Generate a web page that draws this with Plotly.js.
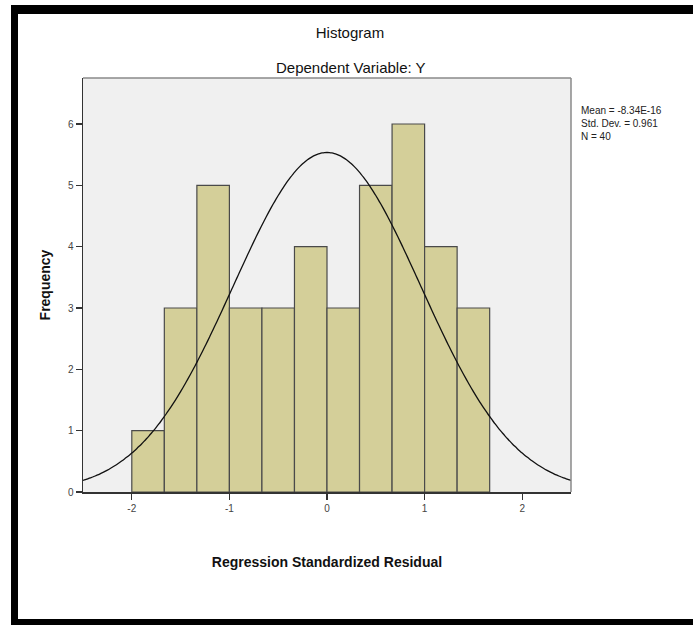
<!DOCTYPE html>
<html>
<head>
<meta charset="utf-8">
<script src="https://cdn.plot.ly/plotly-3.0.1.min.js"></script>
<style>
  html, body { margin: 0; padding: 0; background: #fff; }
  #wrap { position: relative; width: 693px; height: 625px; overflow: hidden; }
  #chart { position: absolute; left: 0; top: 0; width: 693px; height: 625px; }
  .bd { position: absolute; background: #000; }
</style>
</head>
<body>
<div id="wrap">
  <div id="chart"></div>
  <div class="bd" style="left:11px; top:5px; width:682px; height:9px;"></div>
  <div class="bd" style="left:11px; top:5px; width:7px; height:620px;"></div>
  <div class="bd" style="left:11px; top:619px; width:682px; height:6px;"></div>
</div>
<script>
// ---- data ----
var binStart = -2;
var binWidth = 1 / 3;
var frequencies = [1, 3, 5, 3, 3, 4, 3, 5, 6, 4, 3];
var statMean = -8.34e-16;
var statSD = 0.961;
var statN = 40;
var xTickVals = [-2, -1, 0, 1, 2];
var xTickText = ["-2", "-1", "0", "1", "2"];
var yTickVals = [0, 1, 2, 3, 4, 5, 6];
var yTickText = ["0", "1", "2", "3", "4", "5", "6"];

// bin centres
var binCenters = frequencies.map(function (_, i) { return binStart + (i + 0.5) * binWidth; });

// fitted normal curve (from reported mean, sd, N and bin width)
var curveX = [], curveY = [];
for (var k = 0; k <= 200; k++) {
  var x = -2.5 + k * 5 / 200;
  var z = (x - statMean) / statSD;
  curveX.push(x);
  curveY.push(statN * binWidth * Math.exp(-0.5 * z * z) / (statSD * Math.sqrt(2 * Math.PI)));
}

var font = "Liberation Sans, Arial, sans-serif";

var traces = [
  {
    type: "bar",
    x: binCenters,
    y: frequencies,
    width: binWidth,
    marker: { color: "#d4cf99", line: { color: "#4a4a4a", width: 1.2 } },
    hoverinfo: "x+y"
  },
  {
    type: "scatter",
    mode: "lines",
    x: curveX,
    y: curveY,
    line: { color: "#111", width: 1.3, shape: "spline" },
    hoverinfo: "skip"
  }
];

var layout = {
  width: 693,
  height: 625,
  paper_bgcolor: "#ffffff",
  plot_bgcolor: "#f0f0f0",
  showlegend: false,
  margin: { l: 83, r: 122, t: 78, b: 133, pad: 0 },
  font: { family: font, color: "#000" },
  bargap: 0,
  title: {
    text: "Histogram",
    font: { family: font, size: 15, color: "#111" },
    x: 0.505, xanchor: "center",
    y: 1 - 33 / 625, yanchor: "middle", yref: "container"
  },
  xaxis: {
    range: [-2.5, 2.5],
    tickmode: "array",
    tickvals: xTickVals,
    ticktext: xTickText,
    ticks: "outside",
    ticklen: 6,
    tickwidth: 1.2,
    tickcolor: "#333",
    tickfont: { family: font, size: 10, color: "#444" },
    showgrid: false,
    zeroline: false,
    showline: true,
    linecolor: "#333",
    linewidth: 1.5,
    title: {
      text: "<b>Regression Standardized Residual</b>",
      font: { family: font, size: 14, color: "#111" },
      standoff: 44
    }
  },
  yaxis: {
    range: [0, 6.75],
    tickmode: "array",
    tickvals: yTickVals,
    ticktext: yTickText,
    ticks: "outside",
    ticklen: 6,
    tickwidth: 1.2,
    tickcolor: "#333",
    tickfont: { family: font, size: 10, color: "#444" },
    showgrid: false,
    zeroline: false,
    showline: true,
    linecolor: "#333",
    linewidth: 1.5,
    title: {
      text: "<b>Frequency</b>",
      font: { family: font, size: 14, color: "#111" },
      standoff: 14
    }
  },
  shapes: [
    { type: "line", xref: "paper", yref: "paper", x0: 0, x1: 1, y0: 1, y1: 1, line: { color: "#8a8a8a", width: 1.5 } },
    { type: "line", xref: "paper", yref: "paper", x0: 1, x1: 1, y0: 0, y1: 1, line: { color: "#8a8a8a", width: 1.5 } }
  ],
  annotations: [
    {
      text: "Dependent Variable: Y",
      xref: "paper", yref: "paper",
      x: 0.55, y: (492 - 67) / 414,
      xanchor: "center", yanchor: "middle",
      showarrow: false,
      font: { family: font, size: 15, color: "#111" }
    },
    {
      text: "Mean = -8.34E-16<br>Std. Dev. = 0.961<br>N = " + statN,
      xref: "paper", yref: "paper",
      x: (579 - 83) / 488, y: (492 - 103) / 414,
      xanchor: "left", yanchor: "top",
      align: "left",
      showarrow: false,
      font: { family: font, size: 10, color: "#222" }
    }
  ]
};

Plotly.newPlot("chart", traces, layout, { displayModeBar: false, staticPlot: true });
</script>
</body>
</html>
